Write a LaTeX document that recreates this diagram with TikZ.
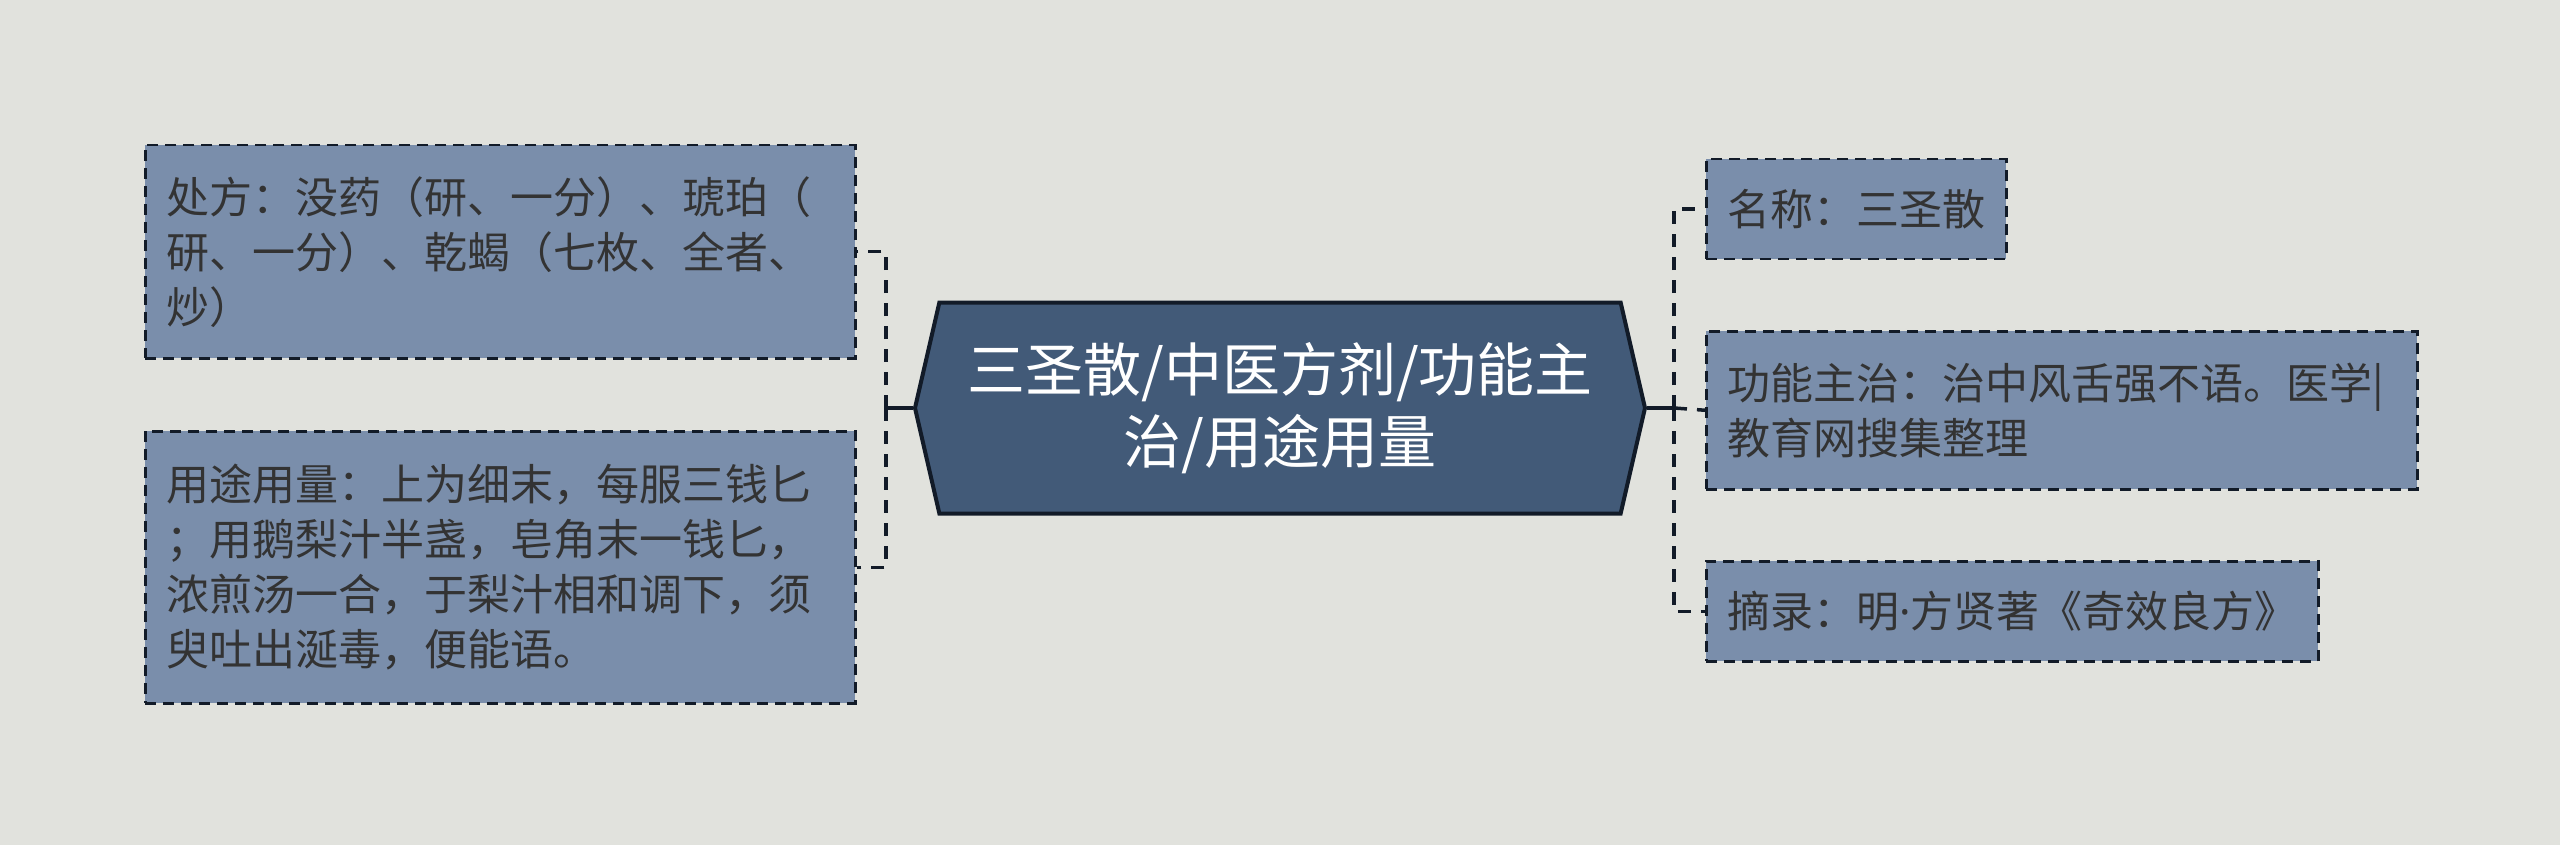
\documentclass[tikz,border=0pt]{standalone}
\usepackage{fontspec}
\setmainfont{Noto Sans CJK SC}
\newfontfamily\latinfont{Noto Sans}
\usepackage{tikz}
\usetikzlibrary{shapes.symbols}

\definecolor{bgcol}{HTML}{E1E2DD}
\definecolor{boxcol}{HTML}{7A8EAB}
\definecolor{hexcol}{HTML}{425A78}
\definecolor{linecol}{HTML}{121B28}
\definecolor{txtcol}{HTML}{333333}

\begin{document}
\begin{tikzpicture}[x=1pt, y=-1pt,
    leaf/.style={draw=linecol, fill=boxcol, line width=2.5pt, dash pattern=on 11pt off 7pt,
        anchor=north west, align=left, inner xsep=21pt, inner ysep=0pt, text=txtcol,
        font=\fontsize{43}{55}\selectfont},
    link/.style={draw=linecol, line width=3.5pt, dash pattern=on 13pt off 10pt}]
    \fill[bgcol] (0,0) rectangle (2560,845);
    \useasboundingbox (0,0) rectangle (2560,845);

    \node[signal, signal to=west and east, signal pointer angle=154, draw=linecol, fill=hexcol,
        line width=4pt, minimum width=730pt, minimum height=211pt, inner sep=0pt, text=white,
        align=center, font=\fontsize{58}{72}\selectfont] (root) at (1280,408)
        {三圣散/中医方剂/功能主\\治/用途用量};

    % left side
    \node[leaf, text width=668pt, minimum height=213pt] (recipe) at (144,144)
        {处方：没药（研、一分）、琥珀（\\研、一分）、乾蝎（七枚、全者、\\炒）};
    \node[leaf, text width=668pt, minimum height=272pt] (usage) at (144,430)
        {用途用量：上为细末，每服三钱匕\\；用鹅梨汁半盏，皂角末一钱匕，\\浓煎汤一合，于梨汁相和调下，须\\臾吐出涎毒，便能语。};

    % right side
    \node[leaf, text width=258pt, minimum height=100pt] (name) at (1705,158)
        {名称：三圣散};
    \node[leaf, text width=669pt, minimum height=158pt] (effect) at (1705,330)
        {功能主治：治中风舌强不语。医学|\\教育网搜集整理};
    \node[leaf, text width=570pt, minimum height=100pt] (source) at (1705,560)
        {摘录：明{\latinfont ·}方贤著《奇效良方》};

    \coordinate (lj) at (886,408);
    \coordinate (rj) at (1674,408);

    \draw[linecol, line width=3.5pt] (root.west) -- (lj);
    \draw[linecol, line width=3.5pt] (root.east) -- (rj);
    \draw[link] (lj) |- (recipe.east);
    \draw[link] (lj) |- (usage.east);
    \draw[link] (rj) |- (name.west);
    \draw[link] (rj) -- (effect.west);
    \draw[link] (rj) |- (source.west);
\end{tikzpicture}
\end{document}
